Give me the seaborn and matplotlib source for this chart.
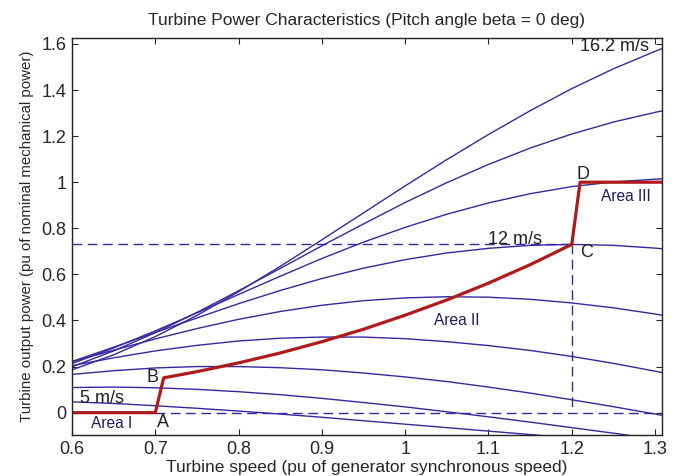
import pandas as pd
import seaborn as sns
import matplotlib.pyplot as plt

# turbine speed samples (pu) and power for each wind speed
speed = [0.6, 0.65, 0.7, 0.75, 0.8, 0.85, 0.9, 0.95, 1.0, 1.05, 1.1, 1.15, 1.2, 1.25, 1.3, 1.312]

p_16_2 = [0.186, 0.251, 0.330, 0.422, 0.525, 0.635, 0.750, 0.867, 0.984, 1.098, 1.207, 1.310, 1.406, 1.492, 1.568, 1.584]
p_14_8 = [0.199, 0.268, 0.347, 0.435, 0.529, 0.626, 0.724, 0.819, 0.912, 0.998, 1.077, 1.148, 1.209, 1.261, 1.303, 1.312]
p_13_4 = [0.213, 0.281, 0.355, 0.433, 0.513, 0.592, 0.669, 0.740, 0.804, 0.861, 0.910, 0.950, 0.981, 1.001, 1.013, 1.015]
p_12_0 = [0.222, 0.284, 0.348, 0.411, 0.473, 0.530, 0.582, 0.627, 0.664, 0.693, 0.713, 0.726, 0.730, 0.726, 0.714, 0.710]
p_10_6 = [0.221, 0.271, 0.320, 0.365, 0.405, 0.439, 0.466, 0.486, 0.498, 0.503, 0.501, 0.492, 0.476, 0.455, 0.428, 0.421]
p_9_2 = [0.204, 0.238, 0.268, 0.292, 0.311, 0.323, 0.328, 0.328, 0.321, 0.308, 0.291, 0.270, 0.244, 0.214, 0.180, 0.172]
p_7_8 = [0.166, 0.182, 0.194, 0.200, 0.200, 0.195, 0.186, 0.172, 0.155, 0.135, 0.111, 0.085, 0.056, 0.026, -0.006, -0.014]
p_6_4 = [0.109, 0.111, 0.108, 0.101, 0.091, 0.078, 0.062, 0.044, 0.025, 0.004, -0.018, -0.041, -0.065, -0.089, -0.114, -0.120]
p_5_0 = [0.047, 0.040, 0.030, 0.019, 0.007, -0.006, -0.020, -0.035, -0.050, -0.065, -0.080, -0.095, -0.110, -0.125, -0.140, -0.143]

wind = [16.2, 14.8, 13.4, 12.0, 10.6, 9.2, 7.8, 6.4, 5.0]
curves = [p_16_2, p_14_8, p_13_4, p_12_0, p_10_6, p_9_2, p_7_8, p_6_4, p_5_0]

# operating path A-B-C-D
path_x = [0.6, 0.7, 0.71, 0.75, 0.8, 0.85, 0.9, 0.95, 1.0, 1.05, 1.1, 1.15, 1.2, 1.21, 1.312]
path_y = [0.0, 0.0, 0.151, 0.178, 0.216, 0.259, 0.308, 0.362, 0.423, 0.489, 0.562, 0.642, 0.730, 1.0, 1.0]

xticks = [0.6, 0.7, 0.8, 0.9, 1.0, 1.1, 1.2, 1.3]
xticklabels = ["0.6", "0.7", "0.8", "0.9", "1", "1.1", "1.2", "1.3"]
yticks = [0, 0.2, 0.4, 0.6, 0.8, 1.0, 1.2, 1.4, 1.6]
yticklabels = ["0", "0.2", "0.4", "0.6", "0.8", "1", "1.2", "1.4", "1.6"]

df = pd.DataFrame(
    [(w, s, p) for w, c in zip(wind, curves) for s, p in zip(speed, c)],
    columns=["wind", "speed", "power"],
)
path = pd.DataFrame({"speed": path_x, "power": path_y})

sns.set_style("ticks")
plt.rcParams["font.family"] = ["Liberation Sans", "DejaVu Sans"]
plt.rcParams["xtick.direction"] = "in"
plt.rcParams["ytick.direction"] = "in"

blue = "#3428a0"
red = "#b01a1a"

fig = plt.figure(figsize=(6.77, 4.76), dpi=100)
ax = fig.add_axes([0.1064, 0.0861, 0.8710, 0.8347])

sns.lineplot(
    data=df, x="speed", y="power", units="wind", estimator=None,
    color=blue, linewidth=1.0, ax=ax, legend=False,
)

# dashed guide lines through C and along zero
ax.plot([0.6, 1.2], [0.73, 0.73], color=blue, linestyle=(0, (7, 4)), linewidth=1.0)
ax.plot([1.2, 1.2], [0.73, 0.02], color=blue, linestyle=(0, (7, 4)), linewidth=1.0)
ax.plot([0.7, 1.312], [0.0, 0.0], color=blue, linestyle=(0, (7, 4)), linewidth=1.0)

sns.lineplot(
    data=path, x="speed", y="power", sort=False, estimator=None,
    color=red, linewidth=2.3, ax=ax,
)

ax.set_xlim(0.6, 1.308)
ax.set_ylim(-0.097, 1.627)
ax.set_xticks(xticks)
ax.set_xticklabels(xticklabels)
ax.set_yticks(yticks)
ax.set_yticklabels(yticklabels)
ax.tick_params(axis="both", labelsize=13, length=4, width=0.8, top=True, right=True, pad=4)
for side in ax.spines.values():
    side.set_linewidth(1.0)
    side.set_color("#222222")

ax.set_title("Turbine Power Characteristics (Pitch angle beta = 0 deg)", fontsize=12.5, pad=9)
ax.set_xlabel("Turbine speed (pu of generator synchronous speed)", fontsize=12.5, labelpad=2)
ax.set_ylabel("Turbine output power (pu of nominal mechanical power)", fontsize=10.8, labelpad=5)

txt = "#222222"
area = "#1c1c66"
ax.text(1.210, 1.590, "16.2 m/s", fontsize=13, color=txt, va="center")
ax.text(1.099, 0.750, "12 m/s", fontsize=13, color=txt, va="center")
ax.text(0.61, 0.060, "5 m/s", fontsize=13, color=txt, va="center")
ax.text(0.709, -0.043, "A", fontsize=13, color=txt, ha="center", va="center")
ax.text(0.697, 0.152, "B", fontsize=13, color=txt, ha="center", va="center")
ax.text(1.218, 0.694, "C", fontsize=13, color=txt, ha="center", va="center")
ax.text(1.213, 1.035, "D", fontsize=13, color=txt, ha="center", va="center")
ax.text(0.648, -0.048, "Area I", fontsize=11.2, color=area, ha="center", va="center")
ax.text(1.062, 0.40, "Area II", fontsize=11.2, color=area, ha="center", va="center")
ax.text(1.265, 0.937, "Area III", fontsize=11.2, color=area, ha="center", va="center")

fig.savefig("out.png", dpi=100)
